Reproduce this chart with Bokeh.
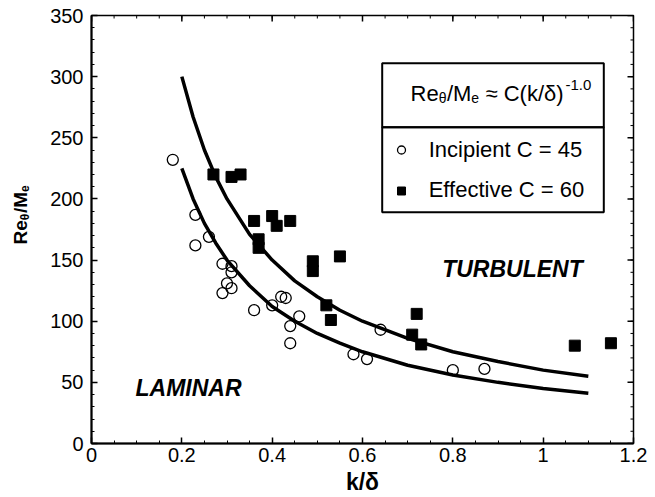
import numpy as np
from bokeh.plotting import figure
from bokeh.layouts import row
from bokeh.models import (FixedTicker, BoxAnnotation, Label, Legend, LegendItem,
                          Range1d, NumeralTickFormatter)
from bokeh.embed import file_html
from bokeh.resources import INLINE

# ---------------- data ----------------
incipient_k = [0.18, 0.23, 0.26, 0.23, 0.29, 0.31, 0.31, 0.30, 0.31, 0.29, 0.36,
               0.40, 0.42, 0.43, 0.46, 0.44, 0.44, 0.58, 0.61, 0.64, 0.80, 0.87]
incipient_re = [232, 187, 169, 162, 147, 145, 140, 131, 127, 123, 109,
                113, 120, 119, 104, 96, 82, 73, 69, 93, 60, 61]

effective_k = [0.27, 0.31, 0.33, 0.36, 0.40, 0.41, 0.44, 0.37, 0.37, 0.49, 0.49,
               0.55, 0.52, 0.53, 0.72, 0.71, 0.73, 1.07, 1.15]
effective_re = [220, 218, 220, 182, 186, 178, 182, 167, 160, 149, 141,
                153, 113, 101, 106, 89, 81, 80, 82]

fit_k = [0.2, 0.225, 0.25, 0.275, 0.3, 0.35, 0.4, 0.45, 0.5, 0.55, 0.6, 0.7, 0.8, 0.9, 1.0, 1.1]
effective_fit = [300, 267, 240, 218, 200, 171, 150, 133, 120, 109, 100, 86, 75, 67, 60, 55]
incipient_fit = [225, 200, 180, 164, 150, 129, 112, 100, 90, 82, 75, 64, 56, 50, 45, 41]

x_ticks = [0, 0.2, 0.4, 0.6, 0.8, 1.0, 1.2]
y_ticks = [0, 50, 100, 150, 200, 250, 300, 350]

# ---------------- layout constants (page pixels) ----------------
FONT = "Liberation Sans"
LW = 40                              # width of the y-label strip
FL, FT, FW, FH = 91, 15, 542, 428    # main frame position on the page
FB = FT + FH
XMAX, YMAX = 1.2, 350


def dx(px):
    return (px - FL) * XMAX / FW


def dy(py):
    return (FB - py) * YMAX / FH


p = figure(frame_width=FW, frame_height=FH,
           x_range=Range1d(0, XMAX), y_range=Range1d(0, YMAX),
           output_backend="svg", toolbar_location=None,
           min_border_left=FL - LW, min_border_right=14,
           min_border_top=FT, min_border_bottom=20, align="start")
p.xgrid.visible = False
p.ygrid.visible = False
p.outline_line_color = "black"
p.outline_line_width = 1.5
p.background_fill_color = "white"
p.border_fill_color = "white"

x_minor = [round(v, 2) for v in np.arange(0, 1.2001, 0.05)]
y_minor = list(range(0, 351, 10))
xticker = FixedTicker(ticks=x_ticks, minor_ticks=x_minor)
yticker = FixedTicker(ticks=y_ticks, minor_ticks=y_minor)

for ax, tk in ((p.xaxis[0], xticker), (p.yaxis[0], yticker)):
    ax.ticker = tk
    ax.axis_line_width = 2
    ax.axis_line_color = "black"
    ax.major_tick_in = 6
    ax.major_tick_out = 0
    ax.minor_tick_in = 3
    ax.minor_tick_out = 0
    ax.major_tick_line_width = 1.5
    ax.major_tick_line_color = "black"
    ax.minor_tick_line_width = 1
    ax.minor_tick_line_color = "black"
    ax.major_label_text_font = FONT
    ax.major_label_text_font_size = "20px"
    ax.major_label_text_color = "black"

p.xaxis[0].formatter = NumeralTickFormatter(format="0.[0]")
p.xaxis[0].major_label_standoff = 4
p.yaxis[0].major_label_standoff = 8
p.xaxis[0].axis_label = "k/δ"
p.xaxis[0].axis_label_text_font = FONT
p.xaxis[0].axis_label_text_font_size = "23px"
p.xaxis[0].axis_label_text_font_style = "bold"
p.xaxis[0].axis_label_text_color = "black"
p.xaxis[0].axis_label_standoff = 4

# mirrored inward ticks on the top and right edges (no labels)
p.ray(x=x_ticks, y=YMAX, length=6, length_units="screen", angle=-np.pi / 2,
      line_color="black", line_width=1.5)
p.ray(x=x_minor, y=YMAX, length=3, length_units="screen", angle=-np.pi / 2,
      line_color="black", line_width=1)
p.ray(x=XMAX, y=y_ticks, length=6, length_units="screen", angle=np.pi,
      line_color="black", line_width=1.5)
p.ray(x=XMAX, y=y_minor, length=3, length_units="screen", angle=np.pi,
      line_color="black", line_width=1)

# fit curves
p.line(fit_k, effective_fit, line_color="black", line_width=3.5, line_join="round")
p.line(fit_k, incipient_fit, line_color="black", line_width=3.5, line_join="round")

# data points
r_inc = p.scatter(incipient_k, incipient_re, marker="circle", size=11,
                  fill_color=None, line_color="black", line_width=1.3)
r_eff = p.scatter(effective_k, effective_re, marker="square", size=11,
                  fill_color="black", line_color="black")

# legend box with title section
for top_px, bot_px in ((62.7, 126.7), (126.7, 211.7)):
    p.add_layout(BoxAnnotation(left=dx(381.7), right=dx(603.3), top=dy(top_px), bottom=dy(bot_px),
                               fill_color=None, fill_alpha=0, line_color="black",
                               line_alpha=1.0, line_width=2, level="overlay"))


def legend_row(label, renderer, centre_px):
    return Legend(items=[LegendItem(label=label, renderers=[renderer])],
                  location=(390.7 - FL, FB - (centre_px + 14.8)),
                  label_text_font=FONT, label_text_font_size="22px",
                  label_text_color="black",
                  glyph_width=20, glyph_height=25, spacing=0, padding=0, margin=0,
                  label_standoff=18, border_line_color=None, background_fill_alpha=0)


p.add_layout(legend_row("Incipient C = 45", r_inc, 147.7))
p.add_layout(legend_row("Effective C = 60", r_eff, 188.3))


def txt(fig, x, y, s, size, style="normal", angle=0, baseline="alphabetic"):
    fig.add_layout(Label(x=x, y=y, text=s, text_font=FONT, text_font_size=size,
                         text_font_style=style, angle=angle, angle_units="deg",
                         text_align="left", text_baseline=baseline, text_color="black"))


# legend title: Re_θ/M_e ≈ C(k/δ)^-1.0
txt(p, dx(410.0), dy(92.5), "Re", "22px")
txt(p, dx(438.3), dy(97.0), "θ", "14px")
txt(p, dx(446.4), dy(92.5), "/M", "22px")
txt(p, dx(470.8), dy(97.0), "e", "14px")
txt(p, dx(485.0), dy(92.5), "≈ C(k/δ)", "22px")
txt(p, dx(565.0), dy(84.0), "-1.0", "15px")

# region labels
txt(p, dx(135), dy(387), "LAMINAR", "23px", "bold italic", baseline="middle")
txt(p, dx(441.7), dy(268), "TURBULENT", "23px", "bold italic", baseline="middle")

# ---------------- y-axis title strip (Re_θ/M_e, rotated) ----------------
LH = 497
ylab = figure(frame_width=LW, frame_height=LH, x_range=Range1d(0, LW), y_range=Range1d(0, LH),
              x_axis_type=None, y_axis_type=None, output_backend="svg", toolbar_location=None,
              min_border=0, min_border_left=0, min_border_right=0,
              min_border_top=0, min_border_bottom=0, align="start")
ylab.outline_line_color = None
ylab.xgrid.visible = False
ylab.ygrid.visible = False
ylab.background_fill_color = "white"
ylab.border_fill_color = "white"

YS = 12   # empirical upward shift of the rotated pieces
txt(ylab, 20, LH - (241.0 - YS), "Re", "19px", "bold", angle=90)
txt(ylab, 24, LH - (216.7 - YS), "θ", "12px", "bold", angle=90)
txt(ylab, 20, LH - (209.5 - YS), "/M", "19px", "bold", angle=90)
txt(ylab, 24, LH - (188.4 - YS), "e", "12px", "bold", angle=90)

layout = row(ylab, p, spacing=0)
open("out.html", "w").write(file_html(layout, INLINE))
